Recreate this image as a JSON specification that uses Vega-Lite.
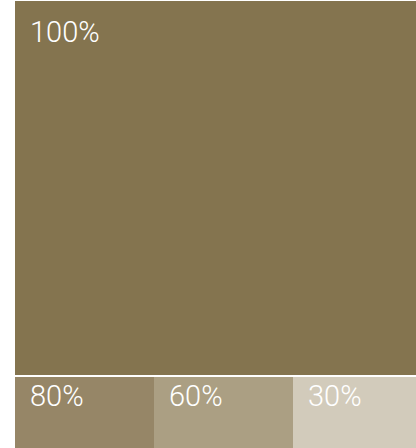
{
  "$schema": "https://vega.github.io/schema/vega-lite/v6.json",
  "width": 417,
  "height": 447,
  "autosize": {"type": "none"},
  "padding": {"left": 15, "top": 1, "right": 0, "bottom": 0},
  "background": "white",
  "view": {"stroke": null},
  "data": {
    "values": [
      {"label": "100%", "share": 100, "x0": 0, "x1": 3, "y0": 0, "y1": 374, "ly": 41.3, "color": "#84744f"},
      {"label": "80%", "share": 80, "x0": 0, "x1": 1, "y0": 376, "y1": 447, "ly": 404.7, "color": "#968667"},
      {"label": "60%", "share": 60, "x0": 1, "x1": 2, "y0": 376, "y1": 447, "ly": 404.7, "color": "#ab9f83"},
      {"label": "30%", "share": 30, "x0": 2, "x1": 3, "y0": 376, "y1": 447, "ly": 404.7, "color": "#d2cbbb"}
    ]
  },
  "encoding": {
    "x": {"field": "x0", "type": "quantitative", "scale": {"domain": [0, 3], "nice": false, "zero": false}, "axis": null}
  },
  "layer": [
    {
      "mark": {"type": "rect", "stroke": null},
      "encoding": {
        "x2": {"field": "x1"},
        "y": {"field": "y0", "type": "quantitative", "scale": {"domain": [0, 447], "reverse": true, "nice": false, "zero": false}, "axis": null},
        "y2": {"field": "y1"},
        "color": {"field": "color", "type": "nominal", "scale": null, "legend": null}
      }
    },
    {
      "mark": {"type": "text", "align": "left", "baseline": "alphabetic", "dx": 15, "font": "Roboto", "fontWeight": 300, "fontSize": 29, "color": "white"},
      "encoding": {
        "y": {"field": "ly", "type": "quantitative"},
        "text": {"field": "label"}
      }
    }
  ]
}
